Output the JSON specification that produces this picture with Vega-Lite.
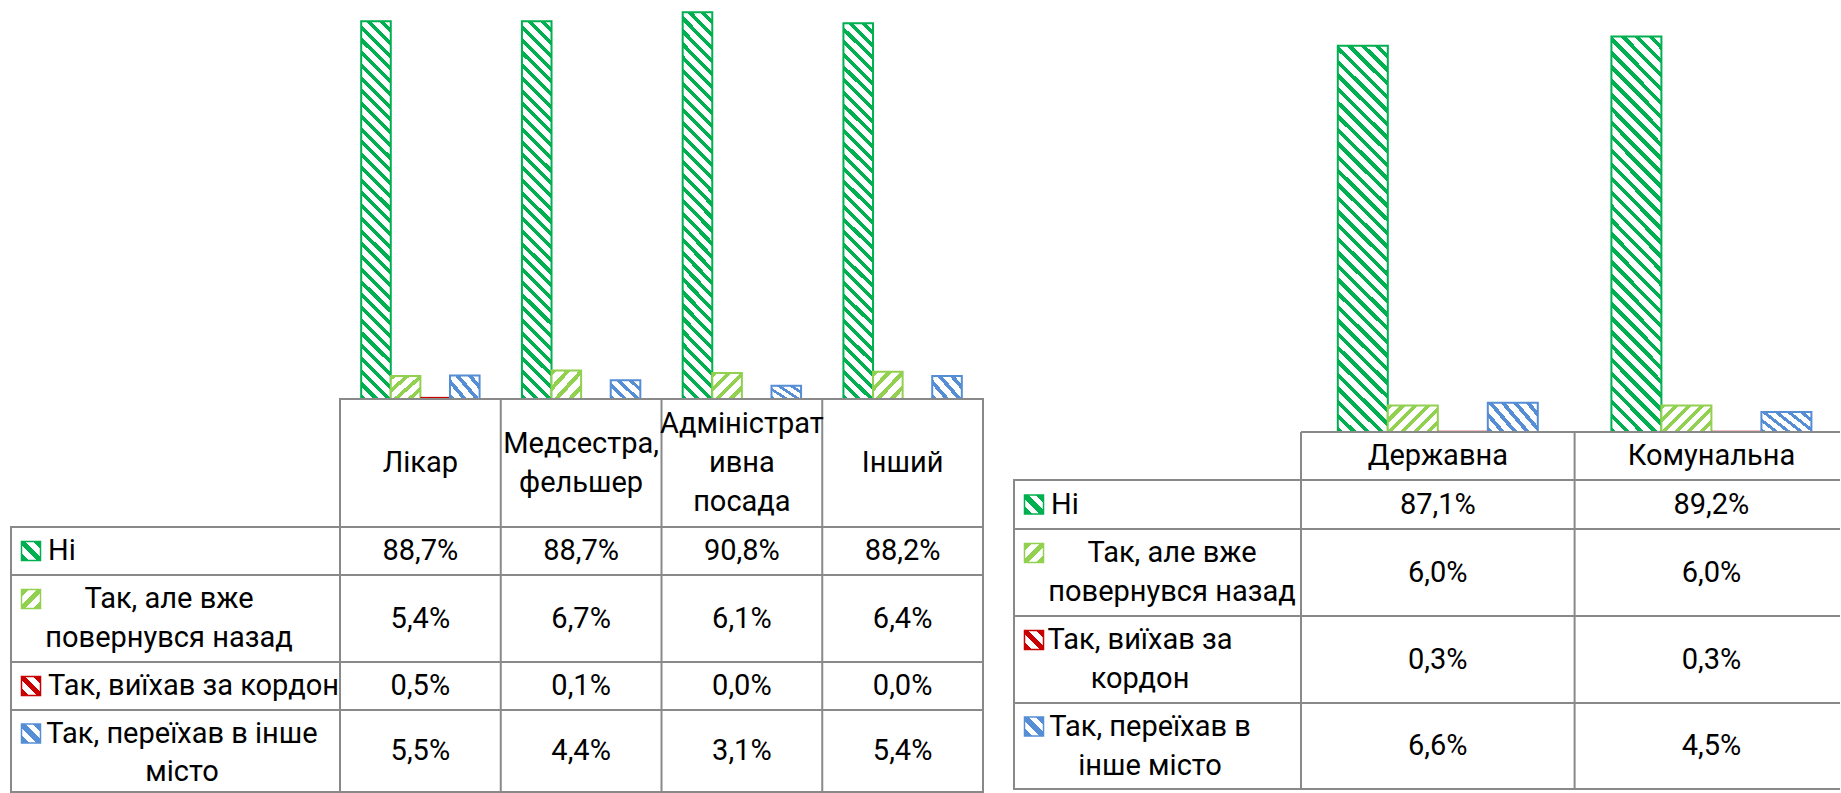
{
"$schema":"https://vega.github.io/schema/vega-lite/v6.json",
"padding":{"left":10,"top":0,"right":0,"bottom":0},
"background":"white",
"datasets":{
"lv":[
{"cat":"Лікар","s":"Ні","v":0.887},{"cat":"Лікар","s":"Так, але вже повернувся назад","v":0.054},{"cat":"Лікар","s":"Так, виїхав за кордон","v":0.005},{"cat":"Лікар","s":"Так, переїхав в інше місто","v":0.055},
{"cat":"Медсестра, фельшер","s":"Ні","v":0.887},{"cat":"Медсестра, фельшер","s":"Так, але вже повернувся назад","v":0.067},{"cat":"Медсестра, фельшер","s":"Так, виїхав за кордон","v":0.001},{"cat":"Медсестра, фельшер","s":"Так, переїхав в інше місто","v":0.044},
{"cat":"Адміністративна посада","s":"Ні","v":0.908},{"cat":"Адміністративна посада","s":"Так, але вже повернувся назад","v":0.061},{"cat":"Адміністративна посада","s":"Так, виїхав за кордон","v":0.0},{"cat":"Адміністративна посада","s":"Так, переїхав в інше місто","v":0.031},
{"cat":"Інший","s":"Ні","v":0.882},{"cat":"Інший","s":"Так, але вже повернувся назад","v":0.064},{"cat":"Інший","s":"Так, виїхав за кордон","v":0.0},{"cat":"Інший","s":"Так, переїхав в інше місто","v":0.054}],
"lh":[{"cat":"Лікар","label":"Лікар"},{"cat":"Медсестра, фельшер","label":"Медсестра,\nфельшер"},{"cat":"Адміністративна посада","label":"Адміністрат\nивна\nпосада"},{"cat":"Інший","label":"Інший"}],
"ls":[{"s":"Ні","label":"Ні"},{"s":"Так, але вже повернувся назад","label":"Так, але вже\nповернувся назад"},{"s":"Так, виїхав за кордон","label":"Так, виїхав за кордон"},{"s":"Так, переїхав в інше місто","label":"Так, переїхав в інше\nмісто"}],
"rv":[
{"cat":"Державна","s":"Ні","v":0.871},{"cat":"Державна","s":"Так, але вже повернувся назад","v":0.060},{"cat":"Державна","s":"Так, виїхав за кордон","v":0.003},{"cat":"Державна","s":"Так, переїхав в інше місто","v":0.066},
{"cat":"Комунальна","s":"Ні","v":0.892},{"cat":"Комунальна","s":"Так, але вже повернувся назад","v":0.060},{"cat":"Комунальна","s":"Так, виїхав за кордон","v":0.003},{"cat":"Комунальна","s":"Так, переїхав в інше місто","v":0.045}],
"rh":[{"cat":"Державна","label":"Державна"},{"cat":"Комунальна","label":"Комунальна"}],
"rs":[{"s":"Ні","label":"Ні"},{"s":"Так, але вже повернувся назад","label":"Так, але вже\nповернувся назад"},{"s":"Так, виїхав за кордон","label":"Так, виїхав за\nкордон"},{"s":"Так, переїхав в інше місто","label":"Так, переїхав в\nінше місто"}]
},
"spacing":29,
"bounds":"full",
"resolve":{"scale":{"xOffset":"independent"}},
"hconcat":[
{"columns":2,"spacing":0,"align":"each","bounds":"flush","resolve":{"scale":{"xOffset":"independent"}},
"concat":[
{"width":329,"height":399,"view":{"stroke":null},"data":{"values":[{}]},"mark":{"type":"text","text":""}},
{"width":643,"height":399,"view":{"stroke":null},"data":{"name":"lv"},
"encoding":{
"x":{"field":"cat","type":"nominal","scale":{"domain":["Лікар","Медсестра, фельшер","Адміністративна посада","Інший"],"paddingInner":0.2635,"paddingOuter":0.13175},"axis":null},
"xOffset":{"field":"s","type":"nominal","scale":{"domain":["Ні","Так, але вже повернувся назад","Так, виїхав за кордон","Так, переїхав в інше місто"],"paddingInner":0,"paddingOuter":0}},
"y":{"field":"v","type":"quantitative","scale":{"domain":[0,0.9366],"nice":false,"zero":true},"axis":null}},
"layer":[
{"transform":[{"filter":{"field":"s","equal":"Ні"}}],"mark":{"type":"bar","stroke":"#00b050","strokeWidth":2,"fill":{"gradient":"linear","x1":0,"y1":1,"x2":0.0836,"y2":-0.0726,"stops":[
{"offset":0,"color":"#00b050"},{"offset":0.0125,"color":"#00b050"},{"offset":0.0125,"color":"#fff"},{"offset":0.03125,"color":"#fff"},
{"offset":0.03125,"color":"#00b050"},{"offset":0.04375,"color":"#00b050"},{"offset":0.04375,"color":"#fff"},{"offset":0.0625,"color":"#fff"},
{"offset":0.0625,"color":"#00b050"},{"offset":0.075,"color":"#00b050"},{"offset":0.075,"color":"#fff"},{"offset":0.09375,"color":"#fff"},
{"offset":0.09375,"color":"#00b050"},{"offset":0.10625,"color":"#00b050"},{"offset":0.10625,"color":"#fff"},{"offset":0.125,"color":"#fff"},
{"offset":0.125,"color":"#00b050"},{"offset":0.1375,"color":"#00b050"},{"offset":0.1375,"color":"#fff"},{"offset":0.15625,"color":"#fff"},
{"offset":0.15625,"color":"#00b050"},{"offset":0.16875,"color":"#00b050"},{"offset":0.16875,"color":"#fff"},{"offset":0.1875,"color":"#fff"},
{"offset":0.1875,"color":"#00b050"},{"offset":0.2,"color":"#00b050"},{"offset":0.2,"color":"#fff"},{"offset":0.21875,"color":"#fff"},
{"offset":0.21875,"color":"#00b050"},{"offset":0.23125,"color":"#00b050"},{"offset":0.23125,"color":"#fff"},{"offset":0.25,"color":"#fff"},
{"offset":0.25,"color":"#00b050"},{"offset":0.2625,"color":"#00b050"},{"offset":0.2625,"color":"#fff"},{"offset":0.28125,"color":"#fff"},
{"offset":0.28125,"color":"#00b050"},{"offset":0.29375,"color":"#00b050"},{"offset":0.29375,"color":"#fff"},{"offset":0.3125,"color":"#fff"},
{"offset":0.3125,"color":"#00b050"},{"offset":0.325,"color":"#00b050"},{"offset":0.325,"color":"#fff"},{"offset":0.34375,"color":"#fff"},
{"offset":0.34375,"color":"#00b050"},{"offset":0.35625,"color":"#00b050"},{"offset":0.35625,"color":"#fff"},{"offset":0.375,"color":"#fff"},
{"offset":0.375,"color":"#00b050"},{"offset":0.3875,"color":"#00b050"},{"offset":0.3875,"color":"#fff"},{"offset":0.40625,"color":"#fff"},
{"offset":0.40625,"color":"#00b050"},{"offset":0.41875,"color":"#00b050"},{"offset":0.41875,"color":"#fff"},{"offset":0.4375,"color":"#fff"},
{"offset":0.4375,"color":"#00b050"},{"offset":0.45,"color":"#00b050"},{"offset":0.45,"color":"#fff"},{"offset":0.46875,"color":"#fff"},
{"offset":0.46875,"color":"#00b050"},{"offset":0.48125,"color":"#00b050"},{"offset":0.48125,"color":"#fff"},{"offset":0.5,"color":"#fff"},
{"offset":0.5,"color":"#00b050"},{"offset":0.5125,"color":"#00b050"},{"offset":0.5125,"color":"#fff"},{"offset":0.53125,"color":"#fff"},
{"offset":0.53125,"color":"#00b050"},{"offset":0.54375,"color":"#00b050"},{"offset":0.54375,"color":"#fff"},{"offset":0.5625,"color":"#fff"},
{"offset":0.5625,"color":"#00b050"},{"offset":0.575,"color":"#00b050"},{"offset":0.575,"color":"#fff"},{"offset":0.59375,"color":"#fff"},
{"offset":0.59375,"color":"#00b050"},{"offset":0.60625,"color":"#00b050"},{"offset":0.60625,"color":"#fff"},{"offset":0.625,"color":"#fff"},
{"offset":0.625,"color":"#00b050"},{"offset":0.6375,"color":"#00b050"},{"offset":0.6375,"color":"#fff"},{"offset":0.65625,"color":"#fff"},
{"offset":0.65625,"color":"#00b050"},{"offset":0.66875,"color":"#00b050"},{"offset":0.66875,"color":"#fff"},{"offset":0.6875,"color":"#fff"},
{"offset":0.6875,"color":"#00b050"},{"offset":0.7,"color":"#00b050"},{"offset":0.7,"color":"#fff"},{"offset":0.71875,"color":"#fff"},
{"offset":0.71875,"color":"#00b050"},{"offset":0.73125,"color":"#00b050"},{"offset":0.73125,"color":"#fff"},{"offset":0.75,"color":"#fff"},
{"offset":0.75,"color":"#00b050"},{"offset":0.7625,"color":"#00b050"},{"offset":0.7625,"color":"#fff"},{"offset":0.78125,"color":"#fff"},
{"offset":0.78125,"color":"#00b050"},{"offset":0.79375,"color":"#00b050"},{"offset":0.79375,"color":"#fff"},{"offset":0.8125,"color":"#fff"},
{"offset":0.8125,"color":"#00b050"},{"offset":0.825,"color":"#00b050"},{"offset":0.825,"color":"#fff"},{"offset":0.84375,"color":"#fff"},
{"offset":0.84375,"color":"#00b050"},{"offset":0.85625,"color":"#00b050"},{"offset":0.85625,"color":"#fff"},{"offset":0.875,"color":"#fff"},
{"offset":0.875,"color":"#00b050"},{"offset":0.8875,"color":"#00b050"},{"offset":0.8875,"color":"#fff"},{"offset":0.90625,"color":"#fff"},
{"offset":0.90625,"color":"#00b050"},{"offset":0.91875,"color":"#00b050"},{"offset":0.91875,"color":"#fff"},{"offset":0.9375,"color":"#fff"},
{"offset":0.9375,"color":"#00b050"},{"offset":0.95,"color":"#00b050"},{"offset":0.95,"color":"#fff"},{"offset":0.96875,"color":"#fff"},
{"offset":0.96875,"color":"#00b050"},{"offset":0.98125,"color":"#00b050"},{"offset":0.98125,"color":"#fff"},{"offset":1,"color":"#fff"}]}}},
{"transform":[{"filter":{"field":"s","equal":"Так, але вже повернувся назад"}}],"mark":{"type":"bar","stroke":"#92d050","strokeWidth":2,"fill":{"gradient":"linear","x1":0,"y1":0,"x2":1.0603,"y2":0.9313,"stops":[
{"offset":0,"color":"#92d050"},{"offset":0.1,"color":"#92d050"},{"offset":0.1,"color":"#fff"},{"offset":0.25,"color":"#fff"},
{"offset":0.25,"color":"#92d050"},{"offset":0.35,"color":"#92d050"},{"offset":0.35,"color":"#fff"},{"offset":0.5,"color":"#fff"},
{"offset":0.5,"color":"#92d050"},{"offset":0.6,"color":"#92d050"},{"offset":0.6,"color":"#fff"},{"offset":0.75,"color":"#fff"},
{"offset":0.75,"color":"#92d050"},{"offset":0.85,"color":"#92d050"},{"offset":0.85,"color":"#fff"},{"offset":1,"color":"#fff"}]}}},
{"transform":[{"filter":{"field":"s","equal":"Так, виїхав за кордон"}}],"mark":{"type":"bar","fill":"#c80000","strokeWidth":0}},
{"transform":[{"filter":{"field":"s","equal":"Так, переїхав в інше місто"}}],"mark":{"type":"bar","stroke":"#558ed5","strokeWidth":2,"fill":{"gradient":"linear","x1":0,"y1":1,"x2":1.1505,"y2":0.2227,"stops":[
{"offset":0,"color":"#558ed5"},{"offset":0.1,"color":"#558ed5"},{"offset":0.1,"color":"#fff"},{"offset":0.25,"color":"#fff"},
{"offset":0.25,"color":"#558ed5"},{"offset":0.35,"color":"#558ed5"},{"offset":0.35,"color":"#fff"},{"offset":0.5,"color":"#fff"},
{"offset":0.5,"color":"#558ed5"},{"offset":0.6,"color":"#558ed5"},{"offset":0.6,"color":"#fff"},{"offset":0.75,"color":"#fff"},
{"offset":0.75,"color":"#558ed5"},{"offset":0.85,"color":"#558ed5"},{"offset":0.85,"color":"#fff"},{"offset":1,"color":"#fff"}]}}}
]},
{"width":329,"height":128,"view":{"stroke":null},"data":{"values":[{}]},"mark":{"type":"text","text":""}},
{"width":643,"height":128,"data":{"name":"lh"},
"layer":[
{"mark":{"type":"rule","color":"#898989","strokeWidth":2},"encoding":{"x":{"field":"cat","type":"nominal","bandPosition":0,"scale":{"type":"band","domain":["Лікар","Медсестра, фельшер","Адміністративна посада","Інший"],"paddingInner":0,"paddingOuter":0},"axis":null}}},
{"transform":[{"filter":{"field":"cat","oneOf":["Лікар","Інший"]}}],"mark":{"type":"text","baseline":"middle","lineBreak":"\n","lineHeight":39},"encoding":{"x":{"field":"cat","type":"nominal","scale":{"type":"band","domain":["Лікар","Медсестра, фельшер","Адміністративна посада","Інший"],"paddingInner":0,"paddingOuter":0},"axis":null},"text":{"field":"label"}}},
{"transform":[{"filter":{"field":"cat","equal":"Медсестра, фельшер"}}],"mark":{"type":"text","baseline":"middle","lineBreak":"\n","lineHeight":39,"dy":-19.5},"encoding":{"x":{"field":"cat","type":"nominal","scale":{"type":"band","domain":["Лікар","Медсестра, фельшер","Адміністративна посада","Інший"],"paddingInner":0,"paddingOuter":0},"axis":null},"text":{"field":"label"}}},
{"transform":[{"filter":{"field":"cat","equal":"Адміністративна посада"}}],"mark":{"type":"text","baseline":"middle","lineBreak":"\n","lineHeight":39,"dy":-39},"encoding":{"x":{"field":"cat","type":"nominal","scale":{"type":"band","domain":["Лікар","Медсестра, фельшер","Адміністративна посада","Інший"],"paddingInner":0,"paddingOuter":0},"axis":null},"text":{"field":"label"}}}
]},
{"width":329,"height":48,"data":{"name":"ls"},"transform":[{"filter":{"field":"s","equal":"Ні"}}],
"layer":[
{"mark":{"type":"point","shape":"square","size":361,"filled":true,"opacity":1,"stroke":"#00b050","strokeWidth":1.5,"xOffset":20,"fill":{"gradient":"linear","x1":0,"y1":1,"x2":1,"y2":0,"stops":[{"offset":0,"color":"#00b050"},{"offset":0.2,"color":"#00b050"},{"offset":0.2,"color":"#fff"},{"offset":0.4,"color":"#fff"},{"offset":0.4,"color":"#00b050"},{"offset":0.6,"color":"#00b050"},{"offset":0.6,"color":"#fff"},{"offset":0.8,"color":"#fff"},{"offset":0.8,"color":"#00b050"},{"offset":1,"color":"#00b050"}]}},
"encoding":{"x":{"field":"s","type":"nominal","bandPosition":0,"scale":{"type":"band","paddingInner":0,"paddingOuter":0},"axis":null}}},
{"mark":{"type":"text","align":"left","baseline":"middle","dx":37,"lineBreak":"\n","lineHeight":39},
"encoding":{"x":{"field":"s","type":"nominal","bandPosition":0,"scale":{"type":"band","paddingInner":0,"paddingOuter":0},"axis":null},"text":{"field":"label"}}}
]},
{"width":643,"height":48,"data":{"name":"lv"},
"layer":[
{"transform":[{"filter":{"field":"s","equal":"Ні"}}],"mark":{"type":"rule","color":"#898989","strokeWidth":2},"encoding":{"x":{"field":"cat","type":"nominal","bandPosition":0,"scale":{"type":"band","domain":["Лікар","Медсестра, фельшер","Адміністративна посада","Інший"],"paddingInner":0,"paddingOuter":0},"axis":null}}},
{"transform":[{"filter":{"field":"s","equal":"Ні"}}],"mark":{"type":"text","baseline":"middle"},"encoding":{"x":{"field":"cat","type":"nominal","scale":{"type":"band","domain":["Лікар","Медсестра, фельшер","Адміністративна посада","Інший"],"paddingInner":0,"paddingOuter":0},"axis":null},"text":{"field":"v","type":"quantitative","format":".1%"}}}
]},
{"width":329,"height":87,"data":{"name":"ls"},"transform":[{"filter":{"field":"s","equal":"Так, але вже повернувся назад"}}],
"layer":[
{"mark":{"type":"point","shape":"square","size":361,"filled":true,"opacity":1,"stroke":"#92d050","strokeWidth":1.5,"xOffset":20,"yOffset":-19.5,"fill":{"gradient":"linear","x1":0,"y1":0,"x2":1,"y2":1,"stops":[{"offset":0,"color":"#92d050"},{"offset":0.2,"color":"#92d050"},{"offset":0.2,"color":"#fff"},{"offset":0.4,"color":"#fff"},{"offset":0.4,"color":"#92d050"},{"offset":0.6,"color":"#92d050"},{"offset":0.6,"color":"#fff"},{"offset":0.8,"color":"#fff"},{"offset":0.8,"color":"#92d050"},{"offset":1,"color":"#92d050"}]}},
"encoding":{"x":{"field":"s","type":"nominal","bandPosition":0,"scale":{"type":"band","paddingInner":0,"paddingOuter":0},"axis":null}}},
{"mark":{"type":"text","align":"center","baseline":"middle","dx":158,"dy":-19.5,"lineBreak":"\n","lineHeight":39},
"encoding":{"x":{"field":"s","type":"nominal","bandPosition":0,"scale":{"type":"band","paddingInner":0,"paddingOuter":0},"axis":null},"text":{"field":"label"}}}
]},
{"width":643,"height":87,"data":{"name":"lv"},
"layer":[
{"transform":[{"filter":{"field":"s","equal":"Так, але вже повернувся назад"}}],"mark":{"type":"rule","color":"#898989","strokeWidth":2},"encoding":{"x":{"field":"cat","type":"nominal","bandPosition":0,"scale":{"type":"band","domain":["Лікар","Медсестра, фельшер","Адміністративна посада","Інший"],"paddingInner":0,"paddingOuter":0},"axis":null}}},
{"transform":[{"filter":{"field":"s","equal":"Так, але вже повернувся назад"}}],"mark":{"type":"text","baseline":"middle"},"encoding":{"x":{"field":"cat","type":"nominal","scale":{"type":"band","domain":["Лікар","Медсестра, фельшер","Адміністративна посада","Інший"],"paddingInner":0,"paddingOuter":0},"axis":null},"text":{"field":"v","type":"quantitative","format":".1%"}}}
]},
{"width":329,"height":48,"data":{"name":"ls"},"transform":[{"filter":{"field":"s","equal":"Так, виїхав за кордон"}}],
"layer":[
{"mark":{"type":"point","shape":"square","size":361,"filled":true,"opacity":1,"stroke":"#c80000","strokeWidth":1.5,"xOffset":20,"fill":{"gradient":"linear","x1":0,"y1":1,"x2":1,"y2":0,"stops":[{"offset":0,"color":"#c80000"},{"offset":0.2,"color":"#c80000"},{"offset":0.2,"color":"#fff"},{"offset":0.4,"color":"#fff"},{"offset":0.4,"color":"#c80000"},{"offset":0.6,"color":"#c80000"},{"offset":0.6,"color":"#fff"},{"offset":0.8,"color":"#fff"},{"offset":0.8,"color":"#c80000"},{"offset":1,"color":"#c80000"}]}},
"encoding":{"x":{"field":"s","type":"nominal","bandPosition":0,"scale":{"type":"band","paddingInner":0,"paddingOuter":0},"axis":null}}},
{"mark":{"type":"text","align":"left","baseline":"middle","dx":37,"lineBreak":"\n","lineHeight":39},
"encoding":{"x":{"field":"s","type":"nominal","bandPosition":0,"scale":{"type":"band","paddingInner":0,"paddingOuter":0},"axis":null},"text":{"field":"label"}}}
]},
{"width":643,"height":48,"data":{"name":"lv"},
"layer":[
{"transform":[{"filter":{"field":"s","equal":"Так, виїхав за кордон"}}],"mark":{"type":"rule","color":"#898989","strokeWidth":2},"encoding":{"x":{"field":"cat","type":"nominal","bandPosition":0,"scale":{"type":"band","domain":["Лікар","Медсестра, фельшер","Адміністративна посада","Інший"],"paddingInner":0,"paddingOuter":0},"axis":null}}},
{"transform":[{"filter":{"field":"s","equal":"Так, виїхав за кордон"}}],"mark":{"type":"text","baseline":"middle"},"encoding":{"x":{"field":"cat","type":"nominal","scale":{"type":"band","domain":["Лікар","Медсестра, фельшер","Адміністративна посада","Інший"],"paddingInner":0,"paddingOuter":0},"axis":null},"text":{"field":"v","type":"quantitative","format":".1%"}}}
]},
{"width":329,"height":82,"data":{"name":"ls"},"transform":[{"filter":{"field":"s","equal":"Так, переїхав в інше місто"}}],
"layer":[
{"mark":{"type":"point","shape":"square","size":361,"filled":true,"opacity":1,"stroke":"#558ed5","strokeWidth":1.5,"xOffset":20,"yOffset":-17.5,"fill":{"gradient":"linear","x1":0,"y1":1,"x2":1,"y2":0,"stops":[{"offset":0,"color":"#558ed5"},{"offset":0.2,"color":"#558ed5"},{"offset":0.2,"color":"#fff"},{"offset":0.4,"color":"#fff"},{"offset":0.4,"color":"#558ed5"},{"offset":0.6,"color":"#558ed5"},{"offset":0.6,"color":"#fff"},{"offset":0.8,"color":"#fff"},{"offset":0.8,"color":"#558ed5"},{"offset":1,"color":"#558ed5"}]}},
"encoding":{"x":{"field":"s","type":"nominal","bandPosition":0,"scale":{"type":"band","paddingInner":0,"paddingOuter":0},"axis":null}}},
{"mark":{"type":"text","align":"center","baseline":"middle","dx":171,"dy":-17.5,"lineBreak":"\n","lineHeight":38},
"encoding":{"x":{"field":"s","type":"nominal","bandPosition":0,"scale":{"type":"band","paddingInner":0,"paddingOuter":0},"axis":null},"text":{"field":"label"}}}
]},
{"width":643,"height":82,"data":{"name":"lv"},
"layer":[
{"transform":[{"filter":{"field":"s","equal":"Так, переїхав в інше місто"}}],"mark":{"type":"rule","color":"#898989","strokeWidth":2},"encoding":{"x":{"field":"cat","type":"nominal","bandPosition":0,"scale":{"type":"band","domain":["Лікар","Медсестра, фельшер","Адміністративна посада","Інший"],"paddingInner":0,"paddingOuter":0},"axis":null}}},
{"transform":[{"filter":{"field":"s","equal":"Так, переїхав в інше місто"}}],"mark":{"type":"text","baseline":"middle"},"encoding":{"x":{"field":"cat","type":"nominal","scale":{"type":"band","domain":["Лікар","Медсестра, фельшер","Адміністративна посада","Інший"],"paddingInner":0,"paddingOuter":0},"axis":null},"text":{"field":"v","type":"quantitative","format":".1%"}}}
]}
]},
{"columns":2,"spacing":0,"align":"each","bounds":"flush","resolve":{"scale":{"xOffset":"independent"}},
"concat":[
{"width":287,"height":432,"view":{"stroke":null},"data":{"values":[{}]},"mark":{"type":"text","text":""}},
{"width":539,"height":432,"view":{"stroke":null},"data":{"name":"rv"},
"encoding":{
"x":{"field":"cat","type":"nominal","scale":{"domain":["Державна","Комунальна"],"range":[0,547.2],"paddingInner":0.269,"paddingOuter":0.1345},"axis":null},
"xOffset":{"field":"s","type":"nominal","scale":{"domain":["Ні","Так, але вже повернувся назад","Так, виїхав за кордон","Так, переїхав в інше місто"],"paddingInner":0,"paddingOuter":0}},
"y":{"field":"v","type":"quantitative","scale":{"domain":[0,0.9743],"nice":false,"zero":true},"axis":null}},
"layer":[
{"transform":[{"filter":{"field":"s","equal":"Ні"}}],"mark":{"type":"bar","stroke":"#00b050","strokeWidth":2,"fill":{"gradient":"linear","x1":0,"y1":1,"x2":0.142,"y2":-0.1098,"stops":[
{"offset":0,"color":"#00b050"},{"offset":0.0125,"color":"#00b050"},{"offset":0.0125,"color":"#fff"},{"offset":0.03125,"color":"#fff"},
{"offset":0.03125,"color":"#00b050"},{"offset":0.04375,"color":"#00b050"},{"offset":0.04375,"color":"#fff"},{"offset":0.0625,"color":"#fff"},
{"offset":0.0625,"color":"#00b050"},{"offset":0.075,"color":"#00b050"},{"offset":0.075,"color":"#fff"},{"offset":0.09375,"color":"#fff"},
{"offset":0.09375,"color":"#00b050"},{"offset":0.10625,"color":"#00b050"},{"offset":0.10625,"color":"#fff"},{"offset":0.125,"color":"#fff"},
{"offset":0.125,"color":"#00b050"},{"offset":0.1375,"color":"#00b050"},{"offset":0.1375,"color":"#fff"},{"offset":0.15625,"color":"#fff"},
{"offset":0.15625,"color":"#00b050"},{"offset":0.16875,"color":"#00b050"},{"offset":0.16875,"color":"#fff"},{"offset":0.1875,"color":"#fff"},
{"offset":0.1875,"color":"#00b050"},{"offset":0.2,"color":"#00b050"},{"offset":0.2,"color":"#fff"},{"offset":0.21875,"color":"#fff"},
{"offset":0.21875,"color":"#00b050"},{"offset":0.23125,"color":"#00b050"},{"offset":0.23125,"color":"#fff"},{"offset":0.25,"color":"#fff"},
{"offset":0.25,"color":"#00b050"},{"offset":0.2625,"color":"#00b050"},{"offset":0.2625,"color":"#fff"},{"offset":0.28125,"color":"#fff"},
{"offset":0.28125,"color":"#00b050"},{"offset":0.29375,"color":"#00b050"},{"offset":0.29375,"color":"#fff"},{"offset":0.3125,"color":"#fff"},
{"offset":0.3125,"color":"#00b050"},{"offset":0.325,"color":"#00b050"},{"offset":0.325,"color":"#fff"},{"offset":0.34375,"color":"#fff"},
{"offset":0.34375,"color":"#00b050"},{"offset":0.35625,"color":"#00b050"},{"offset":0.35625,"color":"#fff"},{"offset":0.375,"color":"#fff"},
{"offset":0.375,"color":"#00b050"},{"offset":0.3875,"color":"#00b050"},{"offset":0.3875,"color":"#fff"},{"offset":0.40625,"color":"#fff"},
{"offset":0.40625,"color":"#00b050"},{"offset":0.41875,"color":"#00b050"},{"offset":0.41875,"color":"#fff"},{"offset":0.4375,"color":"#fff"},
{"offset":0.4375,"color":"#00b050"},{"offset":0.45,"color":"#00b050"},{"offset":0.45,"color":"#fff"},{"offset":0.46875,"color":"#fff"},
{"offset":0.46875,"color":"#00b050"},{"offset":0.48125,"color":"#00b050"},{"offset":0.48125,"color":"#fff"},{"offset":0.5,"color":"#fff"},
{"offset":0.5,"color":"#00b050"},{"offset":0.5125,"color":"#00b050"},{"offset":0.5125,"color":"#fff"},{"offset":0.53125,"color":"#fff"},
{"offset":0.53125,"color":"#00b050"},{"offset":0.54375,"color":"#00b050"},{"offset":0.54375,"color":"#fff"},{"offset":0.5625,"color":"#fff"},
{"offset":0.5625,"color":"#00b050"},{"offset":0.575,"color":"#00b050"},{"offset":0.575,"color":"#fff"},{"offset":0.59375,"color":"#fff"},
{"offset":0.59375,"color":"#00b050"},{"offset":0.60625,"color":"#00b050"},{"offset":0.60625,"color":"#fff"},{"offset":0.625,"color":"#fff"},
{"offset":0.625,"color":"#00b050"},{"offset":0.6375,"color":"#00b050"},{"offset":0.6375,"color":"#fff"},{"offset":0.65625,"color":"#fff"},
{"offset":0.65625,"color":"#00b050"},{"offset":0.66875,"color":"#00b050"},{"offset":0.66875,"color":"#fff"},{"offset":0.6875,"color":"#fff"},
{"offset":0.6875,"color":"#00b050"},{"offset":0.7,"color":"#00b050"},{"offset":0.7,"color":"#fff"},{"offset":0.71875,"color":"#fff"},
{"offset":0.71875,"color":"#00b050"},{"offset":0.73125,"color":"#00b050"},{"offset":0.73125,"color":"#fff"},{"offset":0.75,"color":"#fff"},
{"offset":0.75,"color":"#00b050"},{"offset":0.7625,"color":"#00b050"},{"offset":0.7625,"color":"#fff"},{"offset":0.78125,"color":"#fff"},
{"offset":0.78125,"color":"#00b050"},{"offset":0.79375,"color":"#00b050"},{"offset":0.79375,"color":"#fff"},{"offset":0.8125,"color":"#fff"},
{"offset":0.8125,"color":"#00b050"},{"offset":0.825,"color":"#00b050"},{"offset":0.825,"color":"#fff"},{"offset":0.84375,"color":"#fff"},
{"offset":0.84375,"color":"#00b050"},{"offset":0.85625,"color":"#00b050"},{"offset":0.85625,"color":"#fff"},{"offset":0.875,"color":"#fff"},
{"offset":0.875,"color":"#00b050"},{"offset":0.8875,"color":"#00b050"},{"offset":0.8875,"color":"#fff"},{"offset":0.90625,"color":"#fff"},
{"offset":0.90625,"color":"#00b050"},{"offset":0.91875,"color":"#00b050"},{"offset":0.91875,"color":"#fff"},{"offset":0.9375,"color":"#fff"},
{"offset":0.9375,"color":"#00b050"},{"offset":0.95,"color":"#00b050"},{"offset":0.95,"color":"#fff"},{"offset":0.96875,"color":"#fff"},
{"offset":0.96875,"color":"#00b050"},{"offset":0.98125,"color":"#00b050"},{"offset":0.98125,"color":"#fff"},{"offset":1,"color":"#fff"}]}}},
{"transform":[{"filter":{"field":"s","equal":"Так, але вже повернувся назад"}}],"mark":{"type":"bar","stroke":"#92d050","strokeWidth":2,"fill":{"gradient":"linear","x1":0,"y1":0,"x2":1.194,"y2":0.6352,"stops":[
{"offset":0,"color":"#92d050"},{"offset":0.0667,"color":"#92d050"},{"offset":0.0667,"color":"#fff"},{"offset":0.1667,"color":"#fff"},
{"offset":0.1667,"color":"#92d050"},{"offset":0.2333,"color":"#92d050"},{"offset":0.2333,"color":"#fff"},{"offset":0.3333,"color":"#fff"},
{"offset":0.3333,"color":"#92d050"},{"offset":0.4,"color":"#92d050"},{"offset":0.4,"color":"#fff"},{"offset":0.5,"color":"#fff"},
{"offset":0.5,"color":"#92d050"},{"offset":0.5667,"color":"#92d050"},{"offset":0.5667,"color":"#fff"},{"offset":0.6667,"color":"#fff"},
{"offset":0.6667,"color":"#92d050"},{"offset":0.7333,"color":"#92d050"},{"offset":0.7333,"color":"#fff"},{"offset":0.8333,"color":"#fff"},
{"offset":0.8333,"color":"#92d050"},{"offset":0.9,"color":"#92d050"},{"offset":0.9,"color":"#fff"},{"offset":1,"color":"#fff"}]}}},
{"transform":[{"filter":{"field":"s","equal":"Так, виїхав за кордон"}}],"mark":{"type":"bar","fill":"#c80000","strokeWidth":0}},
{"transform":[{"filter":{"field":"s","equal":"Так, переїхав в інше місто"}}],"mark":{"type":"bar","stroke":"#558ed5","strokeWidth":2,"fill":{"gradient":"linear","x1":0,"y1":1,"x2":1.2,"y2":0.4,"stops":[
{"offset":0,"color":"#558ed5"},{"offset":0.0667,"color":"#558ed5"},{"offset":0.0667,"color":"#fff"},{"offset":0.1667,"color":"#fff"},
{"offset":0.1667,"color":"#558ed5"},{"offset":0.2333,"color":"#558ed5"},{"offset":0.2333,"color":"#fff"},{"offset":0.3333,"color":"#fff"},
{"offset":0.3333,"color":"#558ed5"},{"offset":0.4,"color":"#558ed5"},{"offset":0.4,"color":"#fff"},{"offset":0.5,"color":"#fff"},
{"offset":0.5,"color":"#558ed5"},{"offset":0.5667,"color":"#558ed5"},{"offset":0.5667,"color":"#fff"},{"offset":0.6667,"color":"#fff"},
{"offset":0.6667,"color":"#558ed5"},{"offset":0.7333,"color":"#558ed5"},{"offset":0.7333,"color":"#fff"},{"offset":0.8333,"color":"#fff"},
{"offset":0.8333,"color":"#558ed5"},{"offset":0.9,"color":"#558ed5"},{"offset":0.9,"color":"#fff"},{"offset":1,"color":"#fff"}]}}}
]},
{"width":287,"height":48,"view":{"stroke":null},"data":{"values":[{}]},"mark":{"type":"text","text":""}},
{"width":539,"height":48,"view":{"stroke":null},"data":{"name":"rh"},
"layer":[
{"mark":{"type":"rule","color":"#898989","strokeWidth":2},"encoding":{"x":{"field":"cat","type":"nominal","bandPosition":0,"scale":{"type":"band","domain":["Державна","Комунальна"],"range":[0,547.2],"paddingInner":0,"paddingOuter":0},"axis":null}}},
{"data":{"values":[{"e":"t"}]},"mark":{"type":"rule","color":"#898989","strokeWidth":2},"encoding":{"y":{"field":"e","type":"nominal","bandPosition":0,"scale":{"type":"band","paddingInner":0,"paddingOuter":0},"axis":null}}},
{"mark":{"type":"text","baseline":"middle"},"encoding":{"x":{"field":"cat","type":"nominal","scale":{"type":"band","domain":["Державна","Комунальна"],"range":[0,547.2],"paddingInner":0,"paddingOuter":0},"axis":null},"text":{"field":"label"}}}
]},
{"width":287,"height":49,"data":{"name":"rs"},"transform":[{"filter":{"field":"s","equal":"Ні"}}],
"layer":[
{"mark":{"type":"point","shape":"square","size":361,"filled":true,"opacity":1,"stroke":"#00b050","strokeWidth":1.5,"xOffset":20,"fill":{"gradient":"linear","x1":0,"y1":1,"x2":1,"y2":0,"stops":[{"offset":0,"color":"#00b050"},{"offset":0.2,"color":"#00b050"},{"offset":0.2,"color":"#fff"},{"offset":0.4,"color":"#fff"},{"offset":0.4,"color":"#00b050"},{"offset":0.6,"color":"#00b050"},{"offset":0.6,"color":"#fff"},{"offset":0.8,"color":"#fff"},{"offset":0.8,"color":"#00b050"},{"offset":1,"color":"#00b050"}]}},
"encoding":{"x":{"field":"s","type":"nominal","bandPosition":0,"scale":{"type":"band","paddingInner":0,"paddingOuter":0},"axis":null}}},
{"mark":{"type":"text","align":"left","baseline":"middle","dx":37,"lineBreak":"\n","lineHeight":39},
"encoding":{"x":{"field":"s","type":"nominal","bandPosition":0,"scale":{"type":"band","paddingInner":0,"paddingOuter":0},"axis":null},"text":{"field":"label"}}}
]},
{"width":539,"height":49,"view":{"stroke":null},"data":{"name":"rv"},
"layer":[
{"transform":[{"filter":{"field":"s","equal":"Ні"}}],"mark":{"type":"rule","color":"#898989","strokeWidth":2},"encoding":{"x":{"field":"cat","type":"nominal","bandPosition":0,"scale":{"type":"band","domain":["Державна","Комунальна"],"range":[0,547.2],"paddingInner":0,"paddingOuter":0},"axis":null}}},
{"data":{"values":[{"e":"t"}]},"mark":{"type":"rule","color":"#898989","strokeWidth":2},"encoding":{"y":{"field":"e","type":"nominal","bandPosition":0,"scale":{"type":"band","paddingInner":0,"paddingOuter":0},"axis":null}}},
{"transform":[{"filter":{"field":"s","equal":"Ні"}}],"mark":{"type":"text","baseline":"middle"},"encoding":{"x":{"field":"cat","type":"nominal","scale":{"type":"band","domain":["Державна","Комунальна"],"range":[0,547.2],"paddingInner":0,"paddingOuter":0},"axis":null},"text":{"field":"v","type":"quantitative","format":".1%"}}}
]},
{"width":287,"height":87,"data":{"name":"rs"},"transform":[{"filter":{"field":"s","equal":"Так, але вже повернувся назад"}}],
"layer":[
{"mark":{"type":"point","shape":"square","size":361,"filled":true,"opacity":1,"stroke":"#92d050","strokeWidth":1.5,"xOffset":20,"yOffset":-19.5,"fill":{"gradient":"linear","x1":0,"y1":0,"x2":1,"y2":1,"stops":[{"offset":0,"color":"#92d050"},{"offset":0.2,"color":"#92d050"},{"offset":0.2,"color":"#fff"},{"offset":0.4,"color":"#fff"},{"offset":0.4,"color":"#92d050"},{"offset":0.6,"color":"#92d050"},{"offset":0.6,"color":"#fff"},{"offset":0.8,"color":"#fff"},{"offset":0.8,"color":"#92d050"},{"offset":1,"color":"#92d050"}]}},
"encoding":{"x":{"field":"s","type":"nominal","bandPosition":0,"scale":{"type":"band","paddingInner":0,"paddingOuter":0},"axis":null}}},
{"mark":{"type":"text","align":"center","baseline":"middle","dx":158,"dy":-19.5,"lineBreak":"\n","lineHeight":39},
"encoding":{"x":{"field":"s","type":"nominal","bandPosition":0,"scale":{"type":"band","paddingInner":0,"paddingOuter":0},"axis":null},"text":{"field":"label"}}}
]},
{"width":539,"height":87,"view":{"stroke":null},"data":{"name":"rv"},
"layer":[
{"transform":[{"filter":{"field":"s","equal":"Так, але вже повернувся назад"}}],"mark":{"type":"rule","color":"#898989","strokeWidth":2},"encoding":{"x":{"field":"cat","type":"nominal","bandPosition":0,"scale":{"type":"band","domain":["Державна","Комунальна"],"range":[0,547.2],"paddingInner":0,"paddingOuter":0},"axis":null}}},
{"data":{"values":[{"e":"t"}]},"mark":{"type":"rule","color":"#898989","strokeWidth":2},"encoding":{"y":{"field":"e","type":"nominal","bandPosition":0,"scale":{"type":"band","paddingInner":0,"paddingOuter":0},"axis":null}}},
{"transform":[{"filter":{"field":"s","equal":"Так, але вже повернувся назад"}}],"mark":{"type":"text","baseline":"middle"},"encoding":{"x":{"field":"cat","type":"nominal","scale":{"type":"band","domain":["Державна","Комунальна"],"range":[0,547.2],"paddingInner":0,"paddingOuter":0},"axis":null},"text":{"field":"v","type":"quantitative","format":".1%"}}}
]},
{"width":287,"height":87,"data":{"name":"rs"},"transform":[{"filter":{"field":"s","equal":"Так, виїхав за кордон"}}],
"layer":[
{"mark":{"type":"point","shape":"square","size":361,"filled":true,"opacity":1,"stroke":"#c80000","strokeWidth":1.5,"xOffset":20,"yOffset":-19.5,"fill":{"gradient":"linear","x1":0,"y1":1,"x2":1,"y2":0,"stops":[{"offset":0,"color":"#c80000"},{"offset":0.2,"color":"#c80000"},{"offset":0.2,"color":"#fff"},{"offset":0.4,"color":"#fff"},{"offset":0.4,"color":"#c80000"},{"offset":0.6,"color":"#c80000"},{"offset":0.6,"color":"#fff"},{"offset":0.8,"color":"#fff"},{"offset":0.8,"color":"#c80000"},{"offset":1,"color":"#c80000"}]}},
"encoding":{"x":{"field":"s","type":"nominal","bandPosition":0,"scale":{"type":"band","paddingInner":0,"paddingOuter":0},"axis":null}}},
{"mark":{"type":"text","align":"center","baseline":"middle","dx":126,"dy":-19.5,"lineBreak":"\n","lineHeight":39},
"encoding":{"x":{"field":"s","type":"nominal","bandPosition":0,"scale":{"type":"band","paddingInner":0,"paddingOuter":0},"axis":null},"text":{"field":"label"}}}
]},
{"width":539,"height":87,"view":{"stroke":null},"data":{"name":"rv"},
"layer":[
{"transform":[{"filter":{"field":"s","equal":"Так, виїхав за кордон"}}],"mark":{"type":"rule","color":"#898989","strokeWidth":2},"encoding":{"x":{"field":"cat","type":"nominal","bandPosition":0,"scale":{"type":"band","domain":["Державна","Комунальна"],"range":[0,547.2],"paddingInner":0,"paddingOuter":0},"axis":null}}},
{"data":{"values":[{"e":"t"}]},"mark":{"type":"rule","color":"#898989","strokeWidth":2},"encoding":{"y":{"field":"e","type":"nominal","bandPosition":0,"scale":{"type":"band","paddingInner":0,"paddingOuter":0},"axis":null}}},
{"transform":[{"filter":{"field":"s","equal":"Так, виїхав за кордон"}}],"mark":{"type":"text","baseline":"middle"},"encoding":{"x":{"field":"cat","type":"nominal","scale":{"type":"band","domain":["Державна","Комунальна"],"range":[0,547.2],"paddingInner":0,"paddingOuter":0},"axis":null},"text":{"field":"v","type":"quantitative","format":".1%"}}}
]},
{"width":287,"height":86,"data":{"name":"rs"},"transform":[{"filter":{"field":"s","equal":"Так, переїхав в інше місто"}}],
"layer":[
{"mark":{"type":"point","shape":"square","size":361,"filled":true,"opacity":1,"stroke":"#558ed5","strokeWidth":1.5,"xOffset":20,"yOffset":-19.5,"fill":{"gradient":"linear","x1":0,"y1":1,"x2":1,"y2":0,"stops":[{"offset":0,"color":"#558ed5"},{"offset":0.2,"color":"#558ed5"},{"offset":0.2,"color":"#fff"},{"offset":0.4,"color":"#fff"},{"offset":0.4,"color":"#558ed5"},{"offset":0.6,"color":"#558ed5"},{"offset":0.6,"color":"#fff"},{"offset":0.8,"color":"#fff"},{"offset":0.8,"color":"#558ed5"},{"offset":1,"color":"#558ed5"}]}},
"encoding":{"x":{"field":"s","type":"nominal","bandPosition":0,"scale":{"type":"band","paddingInner":0,"paddingOuter":0},"axis":null}}},
{"mark":{"type":"text","align":"center","baseline":"middle","dx":136,"dy":-19.5,"lineBreak":"\n","lineHeight":39},
"encoding":{"x":{"field":"s","type":"nominal","bandPosition":0,"scale":{"type":"band","paddingInner":0,"paddingOuter":0},"axis":null},"text":{"field":"label"}}}
]},
{"width":539,"height":86,"view":{"stroke":null},"data":{"name":"rv"},
"layer":[
{"transform":[{"filter":{"field":"s","equal":"Так, переїхав в інше місто"}}],"mark":{"type":"rule","color":"#898989","strokeWidth":2},"encoding":{"x":{"field":"cat","type":"nominal","bandPosition":0,"scale":{"type":"band","domain":["Державна","Комунальна"],"range":[0,547.2],"paddingInner":0,"paddingOuter":0},"axis":null}}},
{"data":{"values":[{"e":"t"}]},"mark":{"type":"rule","color":"#898989","strokeWidth":2},"encoding":{"y":{"field":"e","type":"nominal","bandPosition":0,"scale":{"type":"band","paddingInner":0,"paddingOuter":0},"axis":null}}},
{"data":{"values":[{"e":"t"}]},"mark":{"type":"rule","color":"#898989","strokeWidth":2},"encoding":{"y":{"field":"e","type":"nominal","bandPosition":1,"scale":{"type":"band","paddingInner":0,"paddingOuter":0},"axis":null}}},
{"transform":[{"filter":{"field":"s","equal":"Так, переїхав в інше місто"}}],"mark":{"type":"text","baseline":"middle"},"encoding":{"x":{"field":"cat","type":"nominal","scale":{"type":"band","domain":["Державна","Комунальна"],"range":[0,547.2],"paddingInner":0,"paddingOuter":0},"axis":null},"text":{"field":"v","type":"quantitative","format":".1%"}}}
]}
]}
],
"config":{
"font":"Roboto",
"view":{"stroke":"#898989","strokeWidth":2},
"axis":{"disable":true},
"legend":{"disable":true},
"text":{"font":"Roboto","fontSize":29,"color":"#000"},
"locale":{"number":{"decimal":",","thousands":" ","grouping":[3],"currency":[""," грн"]}}
}
}
